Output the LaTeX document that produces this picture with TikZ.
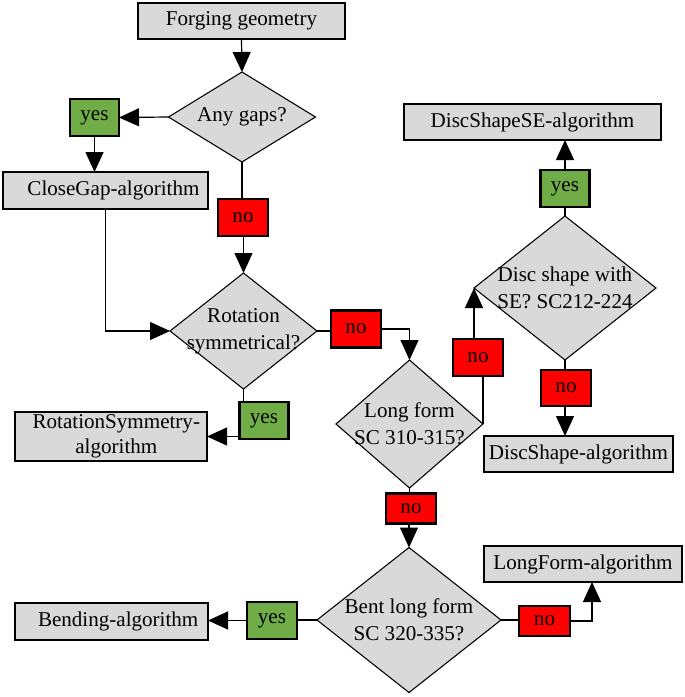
\documentclass[tikz,border=0pt]{standalone}
\usepackage{fontspec}
\setmainfont{Liberation Serif}
\usetikzlibrary{shapes.geometric,arrows.meta}
\definecolor{boxgray}{HTML}{D9D9D9}
\definecolor{yesgreen}{HTML}{70AD47}
\definecolor{nored}{HTML}{FF0000}
\tikzset{
  x=0.75pt, y=-0.75pt,
  every node/.style={font=\fontsize{15.8}{20}\selectfont, inner sep=0pt, outer sep=0pt, align=center},
  sz/.style 2 args={minimum width=#1*0.75pt, minimum height=#2*0.75pt},
  algbox/.style={draw, line width=1.1pt, fill=boxgray},
  dia/.style={draw, line width=0.8pt, fill=boxgray, diamond},
  yesbox/.style={draw, line width=1.6pt, fill=yesgreen, sz={49}{37}},
  nobox/.style={draw, line width=1.6pt, fill=nored, sz={50}{37}},
  conn/.style={line width=0.9pt},
  arr/.style={line width=0.9pt, -{Triangle[width=13.5pt,length=15pt]}},
}
\begin{document}
\begin{tikzpicture}
\useasboundingbox (0,0) rectangle (685,697);
% gray boxes
\node[algbox, sz={207}{36}] (fg) at (241.5,21) {Forging geometry};
\node[algbox, sz={205}{37}] (cg) at (105.5,190.5) {\hspace*{12pt}CloseGap-algorithm};
\node[algbox, sz={192}{49}] (rs) at (111,436.5) {\hspace*{8pt}RotationSymmetry-\\[-1.5pt]\hspace*{8pt}algorithm};
\node[algbox, sz={257}{36}] (dse) at (532.5,122) {DiscShapeSE-algorithm};
\node[algbox, sz={189}{36}] (ds) at (578.5,454) {DiscShape-algorithm};
\node[algbox, sz={198}{36}] (lfa) at (583,564) {LongForm-algorithm};
\node[algbox, sz={193}{37}] (bend) at (111.5,621.5) {\hspace*{10pt}Bending-algorithm};
% diamonds
\node[dia, sz={147}{90}] (gaps) at (242,117) {};
\node (gapst) at (gaps) {Any gaps?};
\node[dia, sz={147}{116}] (rot) at (243.5,331) {};
\node (rott) at (rot) {Rotation\\symmetrical?};
\node[dia, sz={147}{128}] (lf) at (409.5,424) {};
\node (lft) at (lf) {Long form\\SC 310-315?};
\node[dia, sz={182}{144}] (disc) at (565,288) {};
\node (disct) at (disc) {Disc shape with\\SE? SC212-224};
\node[dia, sz={184}{145}] (bent) at (409,620) {};
\node (bentt) at (bent) {Bent long form\\SC 320-335?};
% yes / no labels
\node[yesbox] (yes1) at (94.5,117.5) {yes};
\node[nobox] (no1) at (243,217.5) {no};
\node[yesbox] (yes2) at (264,420.5) {yes};
\node[nobox] (no2) at (356,329) {no};
\node[yesbox] (yes3) at (565,188.5) {yes};
\node[nobox] (no3) at (478,357.5) {no};
\node[nobox, sz={50}{36}] (no4) at (566,388) {no};
\node[nobox, sz={50}{30}] (no5) at (411,508.5) {no};
\node[nobox, sz={51}{30}] (no6) at (544.5,621) {no};
\node[yesbox, sz={50}{37}] (yes4) at (272,620.5) {yes};
\coordinate (c1) at (592,621);
% connectors
\draw[arr] (fg.south) -- (gaps.north);
\draw[arr] (gaps.west) -- (yes1.east);
\draw[arr] (yes1.south) -- (yes1.south |- cg.north);
\draw[conn] (gaps.south) -- (gaps.south |- no1.north);
\draw[arr] (no1.south -| rot.north) -- (rot.north);
\draw[arr] (cg.south) -- (cg.south |- rot.west) -- (rot.west);
\draw[conn] (rot.south) -- (rot.south |- yes2.north);
\draw[arr] (yes2.west |- rs.east) -- (rs.east);
\draw[conn] (rot.east) -- (rot.east -| no2.west);
\draw[arr] (no2.east) -- (no2.east -| lf.north) -- (lf.north);
\draw[conn] (lf.east) -- (lf.east |- no3.south);
\draw[arr] (no3.north -| disc.west) -- (disc.west);
\draw[conn] (disc.north) -- (disc.north |- yes3.south);
\draw[arr] (yes3.north) -- (yes3.north |- dse.south);
\draw[conn] (disc.south) -- (disc.south |- no4.north);
\draw[arr] (no4.south -| disc.south) -- (disc.south |- ds.north);
\draw[conn] (lf.south) -- (lf.south |- no5.north);
\draw[arr] (no5.south -| bent.north) -- (bent.north);
\draw[conn] (bent.west) -- (bent.west -| yes4.east);
\draw[arr] (yes4.west) -- (yes4.west -| bend.east);
\draw[conn] (bent.east) -- (bent.east -| no6.west);
\draw[arr] (no6.east) -- (c1) -- (c1 |- lfa.south);
\end{tikzpicture}
\end{document}
